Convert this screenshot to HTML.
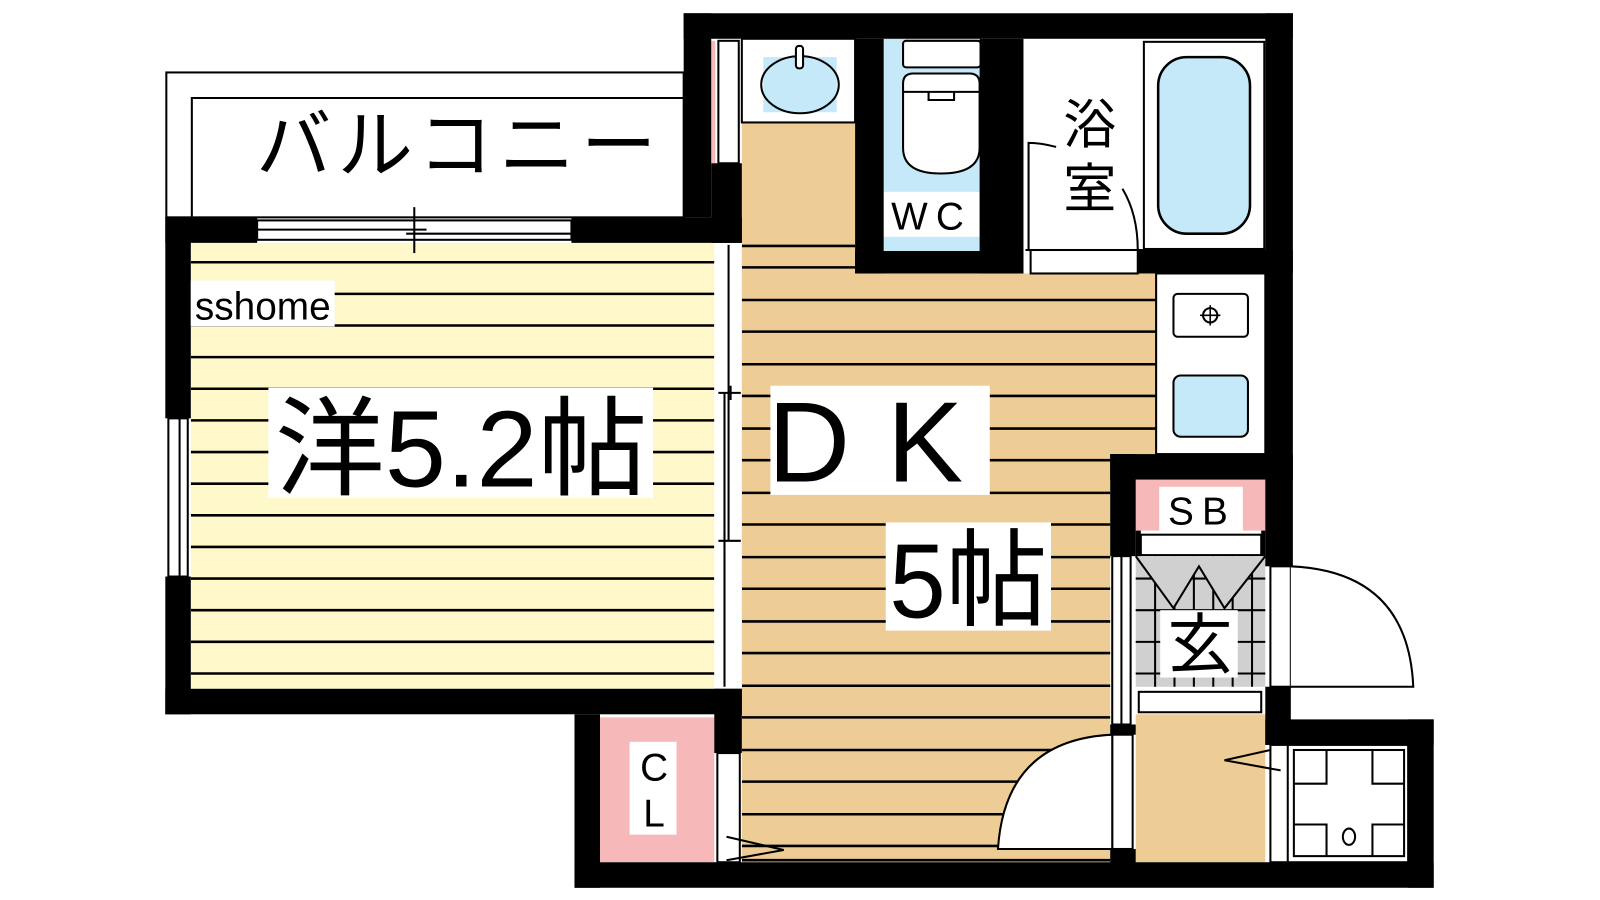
<!DOCTYPE html>
<html><head><meta charset="utf-8"><style>
html,body{margin:0;padding:0;background:#fff;width:1600px;height:900px;overflow:hidden}
svg{display:block}
text{font-family:"Liberation Sans","Noto Sans CJK JP",sans-serif;fill:#000}
</style></head><body>
<svg width="1600" height="900" viewBox="0 0 1568 882" preserveAspectRatio="none" xmlns="http://www.w3.org/2000/svg">
<defs>
<clipPath id="cy"><rect x="187" y="238" width="513" height="437"/></clipPath>
<clipPath id="ct"><path d="M727 238 H838 V268 H1133 V445 H1088 V845 H727 Z"/></clipPath>
</defs>
<rect x="163" y="71" width="507" height="142" fill="#fff" stroke="#000" stroke-width="2"/>
<path d="M188 213 V96 H670" fill="none" stroke="#000" stroke-width="2"/>
<text x="450" y="168" font-size="74" text-anchor="middle" letter-spacing="6">バルコニー</text>
<rect x="187" y="238" width="513" height="437" fill="#fef8cb"/>
<path d="M727 120 H838 V268 H1133 V445 H1088 V845 H727 Z" fill="#eecc96"/>
<g stroke="#000" stroke-width="2.5" clip-path="url(#cy)">
<line x1="187" y1="257" x2="700" y2="257"/><line x1="187" y1="288" x2="700" y2="288"/><line x1="187" y1="319" x2="700" y2="319"/><line x1="187" y1="350" x2="700" y2="350"/><line x1="187" y1="381" x2="700" y2="381"/><line x1="187" y1="412" x2="700" y2="412"/><line x1="187" y1="443" x2="700" y2="443"/><line x1="187" y1="474" x2="700" y2="474"/><line x1="187" y1="505" x2="700" y2="505"/><line x1="187" y1="536" x2="700" y2="536"/><line x1="187" y1="567" x2="700" y2="567"/><line x1="187" y1="598" x2="700" y2="598"/><line x1="187" y1="629" x2="700" y2="629"/><line x1="187" y1="660" x2="700" y2="660"/>
</g>
<g stroke="#000" stroke-width="2.5" clip-path="url(#ct)">
<line x1="727" y1="241" x2="1140" y2="241"/><line x1="727" y1="262" x2="1140" y2="262"/><line x1="727" y1="294" x2="1140" y2="294"/><line x1="727" y1="325" x2="1140" y2="325"/><line x1="727" y1="357" x2="1140" y2="357"/><line x1="727" y1="388" x2="1140" y2="388"/><line x1="727" y1="420" x2="1140" y2="420"/><line x1="727" y1="451" x2="1140" y2="451"/><line x1="727" y1="483" x2="1140" y2="483"/><line x1="727" y1="514" x2="1140" y2="514"/><line x1="727" y1="546" x2="1140" y2="546"/><line x1="727" y1="577" x2="1140" y2="577"/><line x1="727" y1="609" x2="1140" y2="609"/><line x1="727" y1="640" x2="1140" y2="640"/><line x1="727" y1="672" x2="1140" y2="672"/><line x1="727" y1="703" x2="1140" y2="703"/><line x1="727" y1="735" x2="1140" y2="735"/><line x1="727" y1="766" x2="1140" y2="766"/><line x1="727" y1="798" x2="1140" y2="798"/><line x1="727" y1="829" x2="1140" y2="829"/><line x1="727" y1="843" x2="1140" y2="843"/>
</g>
<rect x="703" y="238" width="22" height="437" fill="#fff"/>
<line x1="714" y1="240" x2="714" y2="530" stroke="#000" stroke-width="2"/>
<line x1="710" y1="385" x2="710" y2="673" stroke="#000" stroke-width="2"/>
<path d="M704 385 H726 M716 378 V392 M704 530 H726 M710 523 V537" stroke="#000" stroke-width="2"/>
<rect x="727" y="38" width="111" height="82" fill="#fff" stroke="#000" stroke-width="2"/>
<rect x="748" y="56" width="72" height="54" fill="#c5e9f8"/>
<ellipse cx="784" cy="83" rx="38" ry="28" fill="none" stroke="#000" stroke-width="2"/>
<rect x="780" y="45" width="7" height="22" rx="3" fill="#fff" stroke="#000" stroke-width="2"/>
<rect x="704" y="40" width="20" height="120" fill="#fff" stroke="#000" stroke-width="2"/>
<rect x="697" y="40" width="4" height="120" fill="#f6b8b8"/>
<rect x="866" y="38" width="94" height="208" fill="#c5e9f8"/>
<rect x="885" y="40" width="76" height="26" rx="3" fill="#fff" stroke="#000" stroke-width="2"/>
<path d="M885 82 Q885 72 895 72 H950 Q960 72 960 82 V145 Q960 170 922 170 Q885 170 885 145 Z" fill="#fff" stroke="#000" stroke-width="2"/>
<path d="M885 90 H960 M910 90 V98 H935 V90" fill="none" stroke="#000" stroke-width="2"/>
<rect x="866" y="188" width="94" height="44" fill="#fff"/>
<text x="913" y="225" font-size="38" text-anchor="middle" letter-spacing="8">WC</text>
<rect x="1003" y="38" width="237" height="207" fill="#fff"/>
<rect x="1121" y="41" width="118" height="203" fill="#fff" stroke="#000" stroke-width="2"/>
<rect x="1135" y="56" width="90" height="173" rx="28" fill="#c5e9f8" stroke="#000" stroke-width="2.5"/>
<rect x="1010" y="245" width="105" height="23" fill="#fff" stroke="#000" stroke-width="2"/>
<path d="M1008 245 V140 Q1020 140 1035 144" fill="none" stroke="#000" stroke-width="2"/>
<path d="M1100 185 Q1115 210 1115 245" fill="none" stroke="#000" stroke-width="2"/>
<line x1="1005" y1="245" x2="1120" y2="245" stroke="#000" stroke-width="2"/>
<text x="1068" y="140" font-size="52" text-anchor="middle">浴</text>
<text x="1068" y="203" font-size="52" text-anchor="middle">室</text>
<rect x="1133" y="268" width="107" height="177" fill="#fff" stroke="#000" stroke-width="2"/>
<rect x="1150" y="288" width="73" height="42" rx="4" fill="#fff" stroke="#000" stroke-width="2"/>
<circle cx="1186" cy="309" r="7" fill="none" stroke="#000" stroke-width="2"/>
<path d="M1186 299 V319 M1176 309 H1196" stroke="#000" stroke-width="1.5"/>
<rect x="1150" y="368" width="73" height="60" rx="7" fill="#c5e9f8" stroke="#000" stroke-width="2"/>
<rect x="1113" y="470" width="127" height="50" fill="#f6b8b8"/>
<rect x="1136" y="477" width="82" height="43" fill="#fff"/>
<text x="1178" y="514" font-size="38" text-anchor="middle" letter-spacing="8">SB</text>
<rect x="1118" y="524" width="118" height="20" fill="#fff" stroke="#000" stroke-width="2"/>
<rect x="1113" y="545" width="127" height="128" fill="#d0d0d0"/>
<g stroke="#000" stroke-width="2">
<line x1="1132" y1="545" x2="1132" y2="673"/><line x1="1151" y1="545" x2="1151" y2="673"/><line x1="1170" y1="545" x2="1170" y2="673"/><line x1="1189" y1="545" x2="1189" y2="673"/><line x1="1208" y1="545" x2="1208" y2="673"/><line x1="1227" y1="545" x2="1227" y2="673"/>
<line x1="1113" y1="567" x2="1240" y2="567"/><line x1="1113" y1="598" x2="1240" y2="598"/><line x1="1113" y1="629" x2="1240" y2="629"/><line x1="1113" y1="660" x2="1240" y2="660"/>
</g>
<path d="M1113 545 L1150 596 L1175 555 L1200 596 L1240 545" fill="#d0d0d0" stroke="#000" stroke-width="2"/>
<rect x="1137" y="598" width="76" height="66" fill="#fff"/>
<text x="1176" y="654" font-size="64" text-anchor="middle">玄</text>
<rect x="1116" y="678" width="120" height="20" fill="#fff" stroke="#000" stroke-width="2"/>
<rect x="1090" y="545" width="18" height="165" fill="#fff" stroke="#000" stroke-width="2"/>
<line x1="1099" y1="545" x2="1099" y2="710" stroke="#000" stroke-width="2"/>
<rect x="1113" y="700" width="127" height="145" fill="#eecc96"/>
<rect x="1245" y="555" width="20" height="118" fill="#fff" stroke="#000" stroke-width="2"/>
<path d="M1265 555 Q1380 560 1385 673 H1265" fill="#fff" stroke="#000" stroke-width="2"/>
<rect x="1090" y="720" width="20" height="112" fill="#fff" stroke="#000" stroke-width="2"/>
<path d="M1090 720 Q985 725 978 832 H1090 Z" fill="#fff" stroke="#000" stroke-width="2"/>
<rect x="1245" y="730" width="135" height="115" fill="#fff" stroke="#000" stroke-width="2"/>
<line x1="1262" y1="730" x2="1262" y2="845" stroke="#000" stroke-width="2"/>
<rect x="1268" y="735" width="108" height="104" fill="#fff" stroke="#000" stroke-width="2"/>
<path d="M1268 768 H1300 V735 M1345 735 V768 H1376 M1268 808 H1300 V839 M1345 839 V808 H1376" fill="none" stroke="#000" stroke-width="2"/>
<ellipse cx="1322" cy="820" rx="6" ry="8" fill="none" stroke="#000" stroke-width="2"/>
<path d="M1255 755 L1200 745 L1245 735" fill="none" stroke="#000" stroke-width="2"/>
<rect x="588" y="703" width="112" height="142" fill="#f6b8b8"/>
<rect x="617" y="727" width="46" height="91" fill="#fff"/>
<text x="641" y="765" font-size="38" text-anchor="middle">C</text>
<text x="641" y="810" font-size="38" text-anchor="middle">L</text>
<rect x="703" y="738" width="22" height="107" fill="#fff" stroke="#000" stroke-width="2"/>
<path d="M712 820 L768 833 L712 843" fill="none" stroke="#000" stroke-width="2"/>
<g fill="#000">
<rect x="670" y="13" width="597" height="25"/>
<rect x="670" y="13" width="27" height="200"/>
<rect x="697" y="160" width="30" height="78"/>
<rect x="162" y="213" width="90" height="25"/>
<rect x="560" y="213" width="167" height="25"/>
<rect x="162" y="213" width="25" height="197"/>
<rect x="162" y="565" width="25" height="135"/>
<rect x="162" y="675" width="565" height="25"/>
<rect x="700" y="675" width="27" height="63"/>
<rect x="563" y="700" width="25" height="170"/>
<rect x="563" y="845" width="842" height="25"/>
<rect x="838" y="38" width="28" height="230"/>
<rect x="838" y="246" width="165" height="22"/>
<rect x="960" y="38" width="43" height="230"/>
<rect x="1115" y="245" width="152" height="23"/>
<rect x="1240" y="13" width="27" height="542"/>
<rect x="1240" y="673" width="25" height="57"/>
<rect x="1088" y="445" width="179" height="25"/>
<rect x="1088" y="445" width="25" height="100"/>
<rect x="1088" y="710" width="25" height="10"/>
<rect x="1088" y="832" width="25" height="15"/>
<rect x="1113" y="520" width="5" height="25"/>
<rect x="1236" y="520" width="4" height="25"/>
<rect x="1240" y="705" width="165" height="25"/>
<rect x="1380" y="705" width="25" height="165"/>
</g>
<rect x="252" y="216" width="308" height="19" fill="#fff" stroke="#000" stroke-width="2"/>
<line x1="252" y1="225" x2="418" y2="225" stroke="#000" stroke-width="2"/>
<line x1="398" y1="229" x2="560" y2="229" stroke="#000" stroke-width="2"/>
<line x1="406" y1="203" x2="406" y2="248" stroke="#000" stroke-width="2"/>
<rect x="165" y="410" width="19" height="155" fill="#fff" stroke="#000" stroke-width="2"/>
<line x1="176" y1="410" x2="176" y2="565" stroke="#000" stroke-width="2"/>
<rect x="187" y="275" width="141" height="45" fill="#fff"/>
<text x="191" y="313" font-size="38">sshome</text>
<rect x="263" y="380" width="377" height="108" fill="#fff"/>
<text x="452" y="477" font-size="106" text-anchor="middle" textLength="365" lengthAdjust="spacingAndGlyphs">洋5.2帖</text>
<rect x="755" y="378" width="215" height="107" fill="#fff"/>
<text x="866" y="472" font-size="112" text-anchor="middle" letter-spacing="36">DK</text>
<rect x="868" y="512" width="162" height="106" fill="#fff"/>
<text x="949" y="605" font-size="104" text-anchor="middle" textLength="155" lengthAdjust="spacingAndGlyphs">5帖</text>
</svg>
</body></html>
